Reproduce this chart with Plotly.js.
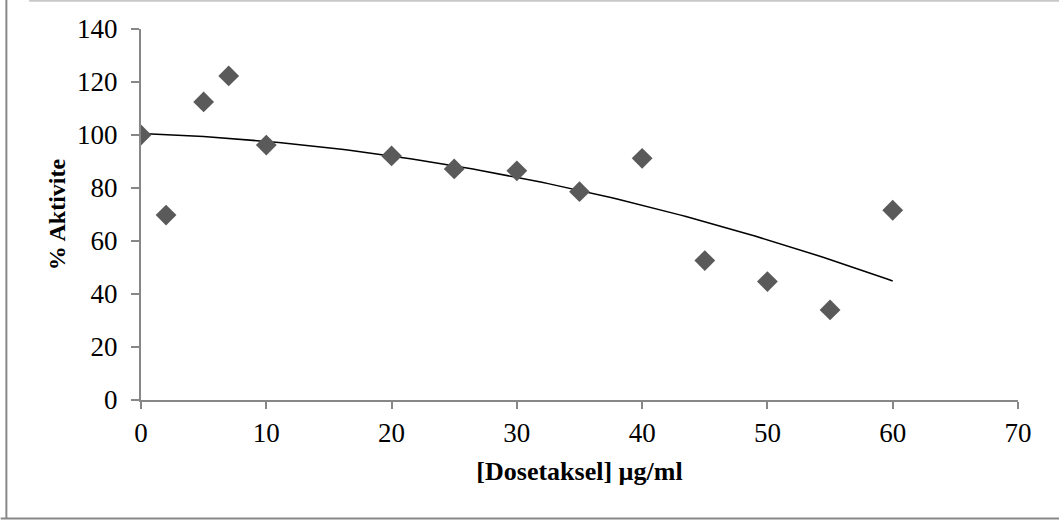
<!DOCTYPE html>
<html>
<head>
<meta charset="utf-8">
<script src="https://cdn.plot.ly/plotly-3.0.1.min.js"></script>
<style>html,body{margin:0;padding:0;background:#fff;}#chart{width:1059px;height:522px;}</style>
</head>
<body>
<div id="chart"></div>
<script>
const doses = [0, 2, 5, 7, 10, 20, 25, 30, 35, 40, 45, 50, 55, 60];
const activity = [100, 69.8, 112.5, 122.3, 96.2, 92.1, 87.2, 86.5, 78.6, 91.2, 52.6, 44.7, 34.0, 71.6];
const xTicks = [0, 10, 20, 30, 40, 50, 60, 70];
const yTicks = [0, 20, 40, 60, 80, 100, 120, 140];

// least-squares polynomial (order 2) trendline from the data
function polyFit2(xs, ys) {
  let S = [0,0,0,0,0], T = [0,0,0];
  for (let i = 0; i < xs.length; i++) {
    let p = 1;
    for (let k = 0; k < 5; k++) { S[k] += p; if (k < 3) T[k] += p * ys[i]; p *= xs[i]; }
  }
  const A = [[S[0],S[1],S[2],T[0]],[S[1],S[2],S[3],T[1]],[S[2],S[3],S[4],T[2]]];
  for (let c = 0; c < 3; c++) {
    for (let r = c + 1; r < 3; r++) {
      const f = A[r][c] / A[c][c];
      for (let k = c; k < 4; k++) A[r][k] -= f * A[c][k];
    }
  }
  const co = [0,0,0];
  for (let r = 2; r >= 0; r--) {
    let s = A[r][3];
    for (let k = r + 1; k < 3; k++) s -= A[r][k] * co[k];
    co[r] = s / A[r][r];
  }
  return co;
}
const co = polyFit2(doses, activity);
const trendX = [], trendY = [];
for (let i = 0; i <= 120; i++) { const x = i * 0.5; trendX.push(x); trendY.push(co[0] + co[1]*x + co[2]*x*x); }

const axisColor = '#878787';
const font = {family: '"Liberation Serif", "Times New Roman", serif', color: '#000'};

Plotly.newPlot('chart', [
  {x: trendX, y: trendY, mode: 'lines', line: {color: '#000', width: 1.5}, hoverinfo: 'skip'},
  {x: doses, y: activity, mode: 'markers', type: 'scatter',
   marker: {symbol: 'diamond', size: 16, color: '#5a5a5a', line: {width: 0}}}
], {
  width: 1059, height: 522,
  margin: {l: 141, r: 41, t: 29, b: 122},
  paper_bgcolor: '#fff', plot_bgcolor: '#fff',
  showlegend: false,
  font: font,
  xaxis: {
    range: [0, 70], tickvals: xTicks, ticktext: xTicks.map(String),
    showgrid: false, zeroline: false, showline: true, linecolor: axisColor, linewidth: 2,
    ticks: 'outside', ticklen: 7, tickcolor: axisColor, tickwidth: 2,
    tickfont: {size: 27, family: font.family, color: '#000'}, ticklabelstandoff: 1,
    title: {text: '<b>[Dosetaksel] µg/ml</b>', font: {size: 26, family: font.family, color: '#000'}, standoff: 14}
  },
  yaxis: {
    range: [0, 140], tickvals: yTicks, ticktext: yTicks.map(String),
    showgrid: false, zeroline: false, showline: true, linecolor: axisColor, linewidth: 2,
    ticks: 'outside', ticklen: 8, tickcolor: axisColor, tickwidth: 2,
    tickfont: {size: 27, family: font.family, color: '#000'}, ticklabelstandoff: 8,
    title: {text: '<b>% Aktivite</b>', font: {size: 24, family: font.family, color: '#000'}, standoff: 5}
  },
  shapes: [
    {type: 'line', xref: 'paper', yref: 'paper', x0: -0.1275, x1: 1.05, y0: 1.076, y1: 1.076, line: {color: '#c8c8c8', width: 2}},
    {type: 'line', xref: 'paper', yref: 'paper', x0: -0.1535, x1: -0.1535, y0: 1.08, y1: -0.318, line: {color: '#888', width: 2}},
    {type: 'line', xref: 'paper', yref: 'paper', x0: -0.16, x1: 1.05, y0: -0.3195, y1: -0.3195, line: {color: '#888', width: 2}}
  ]
}, {staticPlot: true});
</script>
</body>
</html>
